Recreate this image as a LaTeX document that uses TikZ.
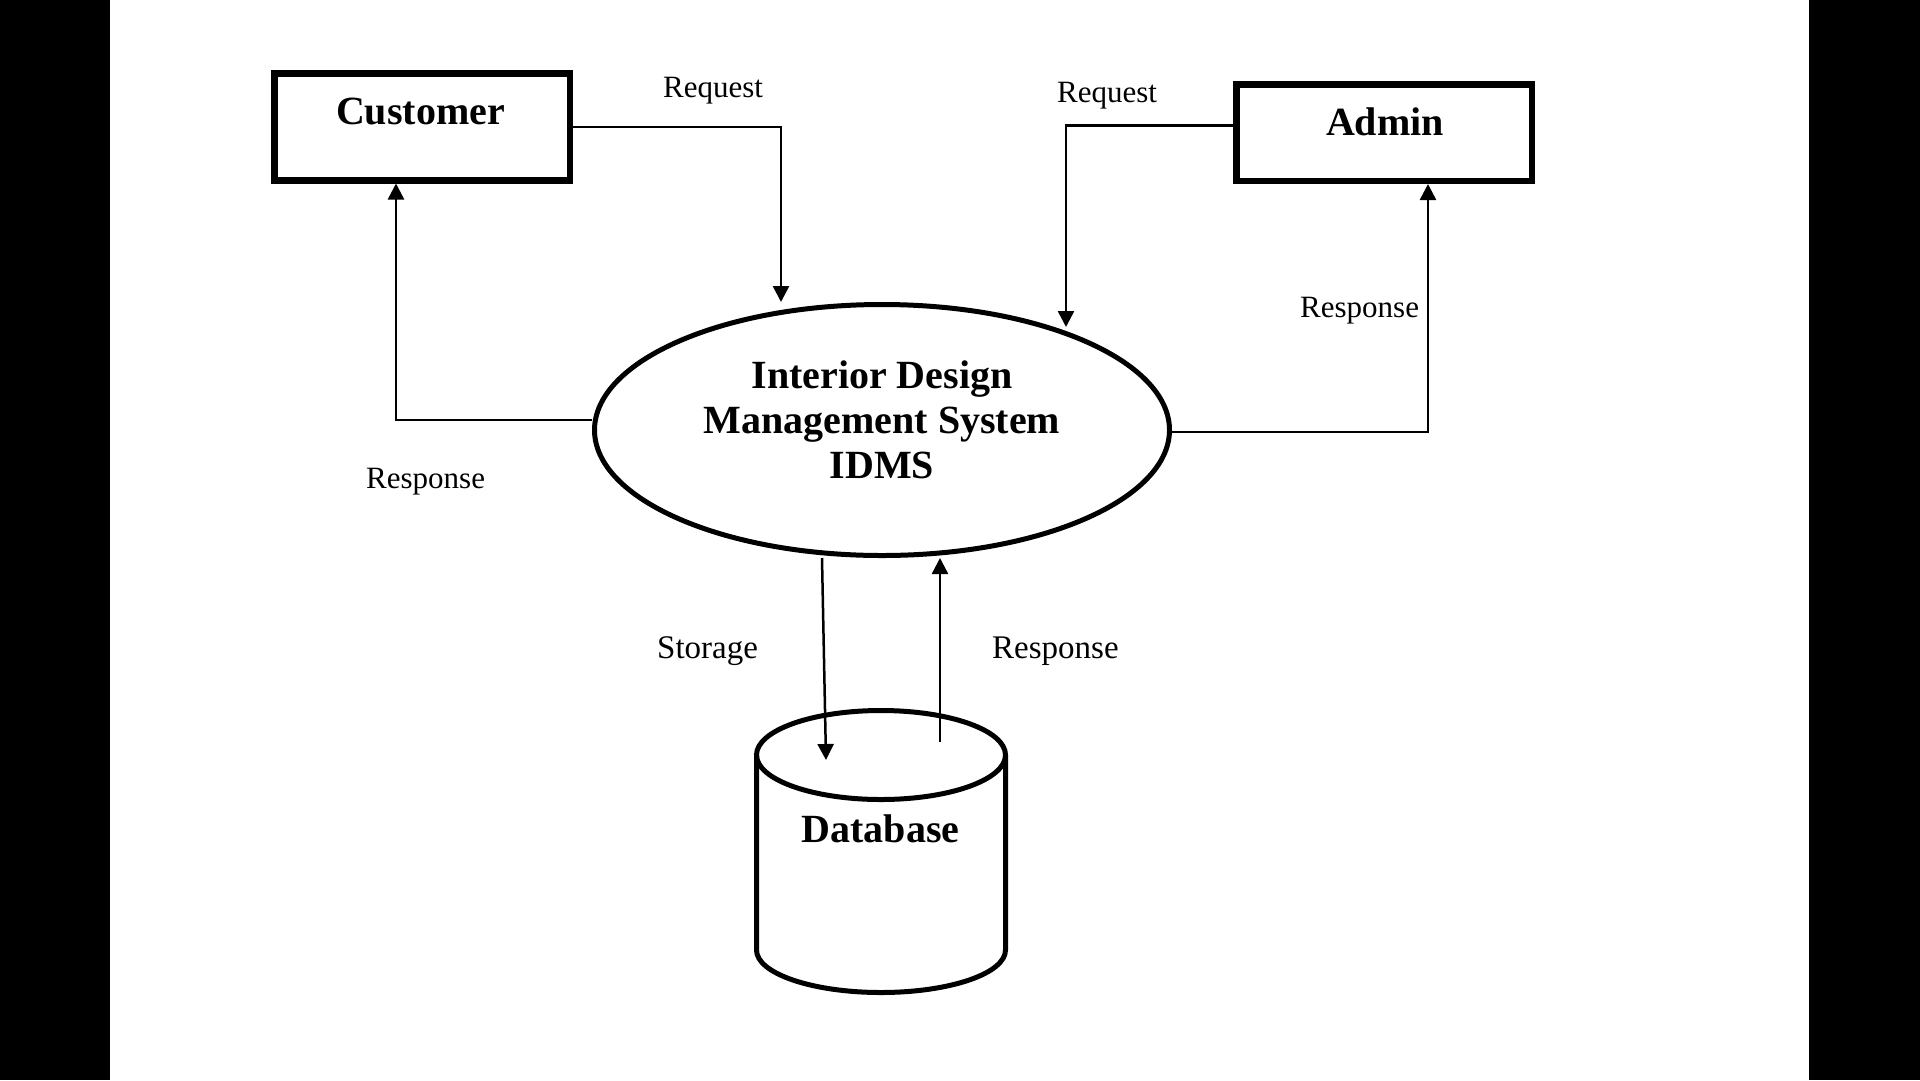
\documentclass[tikz,border=0pt]{standalone}
\usepackage{fontspec}
\setmainfont{Liberation Serif}
\usetikzlibrary{shapes.geometric,arrows.meta}
\begin{document}
\begin{tikzpicture}[x=1pt,y=-1pt,
  box/.style={draw, line width=6.5pt, minimum width=295.5pt, minimum height=107pt, inner sep=0pt},
  flow/.style={line width=2.5pt, -{Triangle[length=16pt,width=16pt]}},
  lbl/.style={font=\fontsize{31}{36}\selectfont, anchor=base west, inner sep=0pt},
  lblb/.style={font=\fontsize{33}{38}\selectfont, anchor=base west, inner sep=0pt},
  title/.style={font=\bfseries\fontsize{40}{45}\selectfont, anchor=base, inner sep=0pt}]
\useasboundingbox (0,0) rectangle (1920,1080);
\fill[white] (0,0) rectangle (1920,1080);
\fill[black] (0,0) rectangle (110,1080);
\fill[black] (1809,0) rectangle (1920,1080);

% entities
\node[box] (customer) at (422,126.75) {};
\node[title] (customertext) at (420.5,124) {Customer};
\node[box, minimum height=96.5pt] (admin) at (1384,132.5) {};
\node[title] (admintext) at (1385,135) {Admin};

% process
\node[draw, ellipse, line width=5pt, minimum width=575pt, minimum height=251pt, inner sep=0pt] (idms) at (882,430) {};
\node[font=\bfseries\fontsize{40}{45}\selectfont, align=center, inner sep=0pt] (idmstext) at (882,420) {Interior Design\\Management System\\IDMS};

% data store
\draw[line width=5pt] (756.5,755) -- (756.5,950) arc[start angle=180, end angle=0, x radius=124.5, y radius=42.5] -- (1005.5,755);
\draw[line width=5pt] (881,755) ellipse[x radius=124.5, y radius=44.5];
\node[title] (dbtext) at (880.5,842) {Database};
\coordinate (dbin) at (826,760);
\coordinate (dbout) at (940,742);

% connector ends
\coordinate (creqtip) at (781,302);
\coordinate (areqtip) at (1066,327);

% connectors
\draw[flow] (customer.east) -| (creqtip);
\draw[flow] (admin.west |- 0,125.5) -| (areqtip);
\draw[flow] (idms.west |- 0,420) -| (customer.south -| 396,0);
\draw[flow] (idms.east |- 0,432) -| (admin.south -| 1428,0);
\draw[flow] (idms.south -| 822,0) -- (dbin);
\draw[flow] (dbout) -- (dbout |- idms.south);

% labels
\node[lbl] (l1) at (663,97) {Request};
\node[lbl] (l2) at (1057,102) {Request};
\node[lbl] (l3) at (1300,317) {Response};
\node[lbl] (l4) at (366,488) {Response};
\node[lblb] (l5) at (657,658) {Storage};
\node[lblb] (l6) at (992,658) {Response};
\end{tikzpicture}
\end{document}
